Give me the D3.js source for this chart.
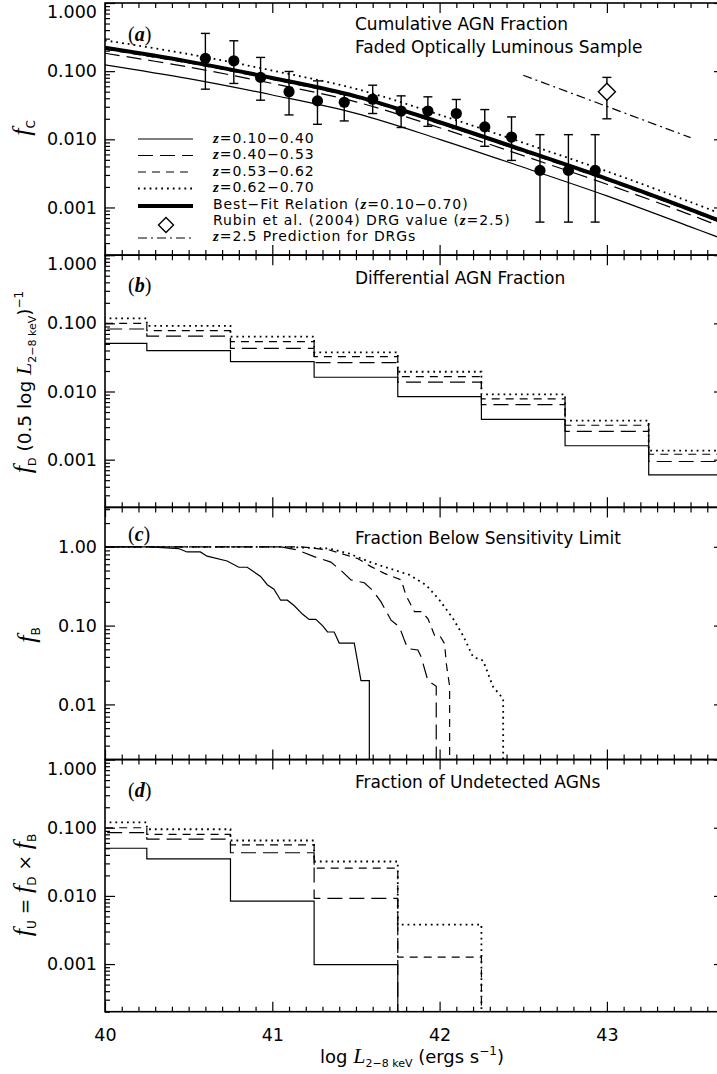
<!DOCTYPE html>
<html>
<head>
<meta charset="utf-8">
<script src="https://cdn.jsdelivr.net/npm/d3@7"></script>
<style>
  body { margin: 0; background: #fff; }
  svg { display: block; }
  text { font-family: "DejaVu Sans", sans-serif; fill: #000; white-space: pre; }
</style>
</head>
<body>
<svg id="chart" width="717" height="1074"></svg>
<script>
// ---------------- data ----------------
// (a) cumulative AGN fraction model curves, sampled in log L(2-8 keV)
const fcLogL   = [40.0, 40.5, 41.0, 41.5, 42.0, 42.5, 43.0, 43.5, 43.7];
const fcZ1     = [0.124, 0.0776, 0.0447, 0.0240, 0.0100, 0.00389, 0.00148, 0.00052, 0.00034];
const fcZ2     = [0.183, 0.115, 0.066, 0.0355, 0.0148, 0.00575, 0.00219, 0.00078, 0.00050];
const fcZ3     = [0.210, 0.132, 0.0758, 0.0408, 0.0170, 0.0066, 0.00251, 0.00089, 0.000576];
const fcZ4     = [0.283, 0.178, 0.102, 0.055, 0.0229, 0.0089, 0.00339, 0.00120, 0.000776];
const fcBest   = [0.220, 0.138, 0.0794, 0.0427, 0.0178, 0.00692, 0.00263, 0.000933, 0.000603];

// (a) measured cumulative fractions with error bars
const obsLogL  = [40.60, 40.77, 40.93, 41.10, 41.27, 41.43, 41.60, 41.77, 41.93, 42.10, 42.27, 42.43, 42.60, 42.77, 42.93];
const obsFc    = [0.154, 0.142, 0.081, 0.050, 0.0366, 0.035, 0.0388, 0.026, 0.026, 0.0239, 0.0152, 0.0108, 0.0035, 0.0035, 0.0035];
const obsLo    = [0.0544, 0.066, 0.0375, 0.0228, 0.0166, 0.0186, 0.0239, 0.0149, 0.0155, 0.0144, 0.0079, 0.0049, 0.00061, 0.00061, 0.00061];
const obsHi    = [0.358, 0.279, 0.159, 0.099, 0.072, 0.046, 0.0622, 0.0434, 0.042, 0.0384, 0.0273, 0.0213, 0.0117, 0.0117, 0.0117];

// (a) DRG value at z=2.5 and the z=2.5 prediction
const drgLogL  = [43.0];
const drgFc    = [0.050];
const drgLo    = [0.020];
const drgHi    = [0.081];
const predLogL = [42.5, 43.5];
const predFc   = [0.087, 0.0106];

// (b) differential AGN fraction per 0.5 dex bin
const binCenters = [40.0, 40.5, 41.0, 41.5, 42.0, 42.5, 43.0, 43.5];
const binWidth   = 0.5;
const fdZ1 = [0.051, 0.0397, 0.0274, 0.0162, 0.0084, 0.0039, 0.0016, 0.00060];
const fdZ2 = [0.0826, 0.065, 0.043, 0.0265, 0.0137, 0.0064, 0.0026, 0.00094];
const fdZ3 = [0.100, 0.078, 0.054, 0.0325, 0.0165, 0.0078, 0.0032, 0.0012];
const fdZ4 = [0.118, 0.092, 0.064, 0.0376, 0.0195, 0.0091, 0.00375, 0.00136];

// (c) fraction of sources below the sensitivity limit
const fbZ1LogL = [40.00, 40.27, 40.44, 40.49, 40.57, 40.61, 40.73, 40.80, 40.85, 40.93, 40.97, 41.01, 41.05, 41.09, 41.13, 41.18, 41.22, 41.26, 41.30, 41.33, 41.37, 41.40, 41.49, 41.53, 41.58];
const fbZ1     = [1.0, 1.0, 0.95, 0.86, 0.86, 0.76, 0.66, 0.55, 0.55, 0.42, 0.33, 0.29, 0.21, 0.21, 0.18, 0.14, 0.12, 0.12, 0.10, 0.083, 0.083, 0.060, 0.060, 0.020, 0.020];
const fbZ2LogL = [40.00, 41.05, 41.15, 41.25, 41.35, 41.42, 41.47, 41.55, 41.60, 41.65, 41.71, 41.76, 41.79, 41.81, 41.87, 41.89, 41.93, 41.98];
const fbZ2     = [1.0, 1.0, 0.91, 0.75, 0.64, 0.48, 0.38, 0.35, 0.28, 0.20, 0.117, 0.096, 0.065, 0.051, 0.049, 0.040, 0.020, 0.017];
const fbZ3LogL = [40.00, 41.17, 41.34, 41.51, 41.59, 41.67, 41.77, 41.80, 41.85, 41.89, 41.93, 41.97, 42.00, 42.03, 42.04, 42.06];
const fbZ3     = [1.0, 1.0, 0.91, 0.71, 0.56, 0.46, 0.38, 0.24, 0.15, 0.15, 0.123, 0.075, 0.075, 0.059, 0.033, 0.017];
const fbZ4LogL = [40.00, 41.05, 41.34, 41.46, 41.58, 41.70, 41.82, 41.92, 42.00, 42.08, 42.14, 42.20, 42.26, 42.32, 42.38];
const fbZ4     = [1.0, 1.0, 0.95, 0.82, 0.645, 0.53, 0.44, 0.326, 0.21, 0.123, 0.075, 0.040, 0.036, 0.0167, 0.0118];

// (d) fraction of undetected AGNs (bins with no undetected sources are omitted)
const fuZ1 = [0.050, 0.035, 0.0084, 0.00098];
const fuZ2 = [0.085, 0.068, 0.043, 0.0092];
const fuZ3 = [0.100, 0.080, 0.056, 0.0255, 0.00126];
const fuZ4 = [0.120, 0.095, 0.065, 0.032, 0.0038];

// axis ticks
const xTickValues = [40, 41, 42, 43];
const xTickLabels = ["40", "41", "42", "43"];
const yTickValues = [1, 0.1, 0.01, 0.001];
const yTickLabels = ["1.000", "0.100", "0.010", "0.001"];
const cTickValues = [1, 0.1, 0.01];
const cTickLabels = ["1.00", "0.10", "0.01"];

const seriesNames = ["z=0.10\u22120.40", "z=0.40\u22120.53", "z=0.53\u22120.62", "z=0.62\u22120.70"];

// ---------------- layout ----------------
const SERIF = "'Liberation Serif','DejaVu Serif',serif";
const SANS = "'DejaVu Sans',sans-serif";
const plotL = 105, plotR = 724;
const panelTop = [3, 255.2, 507.4, 759.6];
const panelH = 252.1;

const styles = [
  { w: 1.2, dash: null },          // z=0.10-0.40 solid
  { w: 1.2, dash: "15,7" },        // z=0.40-0.53 long dash
  { w: 1.2, dash: "8,6" },         // z=0.53-0.62 short dash
  { w: 1.8, dash: "1.8,4" }        // z=0.62-0.70 dotted
];

const svg = d3.select("#chart");
const x = d3.scaleLinear().domain([40, 43.7]).range([plotL, plotR]);

function logMinors(domain) {
  const out = [];
  const lo = Math.floor(Math.log10(domain[0])), hi = Math.ceil(Math.log10(domain[1]));
  for (let e = lo; e <= hi; e++) {
    for (let m = 2; m <= 9; m++) {
      const v = m * Math.pow(10, e);
      if (v >= domain[0] && v <= domain[1]) out.push(v);
    }
  }
  return out;
}

function rich(sel, parts) {
  let cur = 0;
  parts.forEach(p => {
    const ts = sel.append("tspan").text(p.t);
    const off = p.dy || 0;
    if (off !== cur) { ts.attr("dy", off - cur); cur = off; }
    ts.attr("font-family", p.ff || SANS);
    ts.attr("font-size", p.fs || 17);
    if (p.fst) ts.attr("font-style", p.fst);
    if (p.fw) ts.attr("font-weight", p.fw);
  });
  return sel;
}

function makePanel(i, yDomain, tickVals, tickLabels, showX) {
  const top = panelTop[i], bottom = top + panelH;
  const y = d3.scaleLog().domain(yDomain).range([bottom, top]);
  const g = svg.append("g");
  const clipId = "clip" + i;
  svg.append("clipPath").attr("id", clipId)
    .append("rect").attr("x", plotL).attr("y", top).attr("width", plotR - plotL).attr("height", panelH);
  const plot = g.append("g").attr("clip-path", `url(#${clipId})`);

  const axes = g.append("g");
  const minorX = d3.range(40.1, 43.7, 0.1).filter(v => Math.abs(v - Math.round(v)) > 1e-6);
  const yMin = logMinors(yDomain);

  function styleAxis(a) {
    a.select(".domain").remove();
    a.selectAll(".tick line").attr("stroke", "#000").attr("stroke-width", 1.2);
    a.selectAll("text").attr("font-family", SANS).attr("font-size", 17.5).attr("fill", "#000");
  }
  // left
  const left = axes.append("g").attr("transform", `translate(${plotL},0)`)
    .call(d3.axisLeft(y).tickValues(tickVals).tickSize(-10).tickSizeOuter(0).tickPadding(8)
      .tickFormat((d, k) => tickLabels[k]));
  styleAxis(left);
  left.selectAll(".tick").filter(d => Math.abs(y(d) - top) < 1).select("text").attr("y", 9);
  axes.append("g").attr("transform", `translate(${plotL},0)`)
    .call(d3.axisLeft(y).tickValues(yMin).tickSize(-5).tickSizeOuter(0).tickFormat("")).call(styleAxis);
  // right
  axes.append("g").attr("transform", `translate(${plotR},0)`)
    .call(d3.axisRight(y).tickValues(tickVals).tickSize(-10).tickSizeOuter(0).tickFormat("")).call(styleAxis);
  axes.append("g").attr("transform", `translate(${plotR},0)`)
    .call(d3.axisRight(y).tickValues(yMin).tickSize(-5).tickSizeOuter(0).tickFormat("")).call(styleAxis);
  // top
  axes.append("g").attr("transform", `translate(0,${top})`)
    .call(d3.axisTop(x).tickValues(xTickValues).tickSize(-10).tickSizeOuter(0).tickFormat("")).call(styleAxis);
  axes.append("g").attr("transform", `translate(0,${top})`)
    .call(d3.axisTop(x).tickValues(minorX).tickSize(-5).tickSizeOuter(0).tickFormat("")).call(styleAxis);
  // bottom
  const bot = axes.append("g").attr("transform", `translate(0,${bottom})`)
    .call(d3.axisBottom(x).tickValues(xTickValues).tickSize(-10).tickSizeOuter(0).tickPadding(17)
      .tickFormat((d, k) => showX ? xTickLabels[k] : ""));
  styleAxis(bot);
  axes.append("g").attr("transform", `translate(0,${bottom})`)
    .call(d3.axisBottom(x).tickValues(minorX).tickSize(-5).tickSizeOuter(0).tickFormat("")).call(styleAxis);

  // frame
  g.append("rect").attr("x", plotL).attr("y", top).attr("width", plotR - plotL).attr("height", panelH)
    .attr("fill", "none").attr("stroke", "#000").attr("stroke-width", 1.6);

  return { g, plot, y, top, bottom };
}

function applyStyle(sel, s) {
  sel.attr("fill", "none").attr("stroke", "#000").attr("stroke-width", s.w);
  if (s.dash) sel.attr("stroke-dasharray", s.dash);
  return sel;
}

// histogram outline: steps across bins, optionally dropping to the floor at the end
function histPoints(values, y, dropToFloor) {
  const pts = [];
  values.forEach((v, k) => {
    const lo = binCenters[k] - binWidth / 2, hi = binCenters[k] + binWidth / 2;
    pts.push([x(lo), y(v)], [x(hi), y(v)]);
  });
  if (dropToFloor) {
    const last = pts[pts.length - 1];
    pts.push([last[0], y.range()[0] + 5]);
  }
  return pts;
}
const lineRaw = d3.line();

// ---------------- panel (a) ----------------
const pa = makePanel(0, [2e-4, 1], yTickValues, yTickLabels, false);
{
  const curve = d3.line().x((d, k) => x(fcLogL[k])).y(d => pa.y(d)).curve(d3.curveCatmullRom);
  [fcZ1, fcZ2, fcZ3, fcZ4].forEach((arr, k) => {
    applyStyle(pa.plot.append("path").attr("d", curve(arr)), styles[k]);
  });
  applyStyle(pa.plot.append("path").attr("d", curve(fcBest)), { w: 4, dash: null });

  // z=2.5 prediction
  const pred = d3.line().x((d, k) => x(predLogL[k])).y(d => pa.y(d));
  applyStyle(pa.plot.append("path").attr("d", pred(predFc)), { w: 1.2, dash: "9,4,2,4" });

  // error bars + points
  const eb = pa.plot.append("g").attr("stroke", "#000").attr("stroke-width", 1.4);
  obsLogL.forEach((L, k) => {
    const cx = x(L);
    eb.append("line").attr("x1", cx).attr("x2", cx).attr("y1", pa.y(obsLo[k])).attr("y2", pa.y(obsHi[k]));
    eb.append("line").attr("x1", cx - 4.5).attr("x2", cx + 4.5).attr("y1", pa.y(obsLo[k])).attr("y2", pa.y(obsLo[k]));
    eb.append("line").attr("x1", cx - 4.5).attr("x2", cx + 4.5).attr("y1", pa.y(obsHi[k])).attr("y2", pa.y(obsHi[k]));
    pa.plot.append("circle").attr("cx", cx).attr("cy", pa.y(obsFc[k])).attr("r", 5.6).attr("fill", "#000");
  });

  // DRG diamond with error bar
  drgLogL.forEach((L, k) => {
    const cx = x(L), cy = pa.y(drgFc[k]);
    eb.append("line").attr("x1", cx).attr("x2", cx).attr("y1", pa.y(drgLo[k])).attr("y2", pa.y(drgHi[k]));
    eb.append("line").attr("x1", cx - 4.5).attr("x2", cx + 4.5).attr("y1", pa.y(drgLo[k])).attr("y2", pa.y(drgLo[k]));
    eb.append("line").attr("x1", cx - 4.5).attr("x2", cx + 4.5).attr("y1", pa.y(drgHi[k])).attr("y2", pa.y(drgHi[k]));
    pa.plot.append("path").attr("d", `M${cx},${cy - 8.5}L${cx + 8.5},${cy}L${cx},${cy + 8.5}L${cx - 8.5},${cy}Z`)
      .attr("fill", "#fff").attr("stroke", "#000").attr("stroke-width", 1.4);
  });

  // titles
  pa.g.append("text").attr("x", 355).attr("y", 29.5).attr("font-size", 17).text("Cumulative AGN Fraction");
  pa.g.append("text").attr("x", 355).attr("y", 53).attr("font-size", 17).text("Faded Optically Luminous Sample");
  rich(pa.g.append("text").attr("x", 128).attr("y", 41), [
    { t: "(", ff: SERIF, fs: 20 }, { t: "a", ff: SERIF, fs: 20, fst: "italic", fw: "bold" }, { t: ")", ff: SERIF, fs: 20 }
  ]);

  // legend
  const lg = pa.g.append("g");
  const rowY = [138, 154.5, 171, 187.5, 204, 220, 236];
  const lx0 = 138, lx1 = 193, tx = 213;
  const LS = 14, LZ = 15, LSP = 0.9;
  const legendText = (row, parts) =>
    rich(lg.append("text").attr("x", tx).attr("y", rowY[row] + 4.5).attr("letter-spacing", LSP), parts);
  seriesNames.forEach((name, k) => {
    applyStyle(lg.append("line").attr("x1", lx0).attr("x2", lx1).attr("y1", rowY[k] + 1).attr("y2", rowY[k] + 1), styles[k]);
    legendText(k, [
      { t: "z", ff: SERIF, fs: LZ, fst: "italic", fw: "bold" }, { t: name.slice(1), fs: LS }
    ]);
  });
  applyStyle(lg.append("line").attr("x1", lx0).attr("x2", lx1).attr("y1", rowY[4] + 2).attr("y2", rowY[4] + 2), { w: 4, dash: null });
  legendText(4, [
    { t: "Best\u2212Fit Relation (", fs: LS }, { t: "z", ff: SERIF, fs: LZ, fst: "italic", fw: "bold" }, { t: "=0.10\u22120.70)", fs: LS }
  ]);
  {
    const cx = 166, cy = rowY[5] + 5;
    lg.append("path").attr("d", `M${cx},${cy - 7.5}L${cx + 7.5},${cy}L${cx},${cy + 7.5}L${cx - 7.5},${cy}Z`)
      .attr("fill", "#fff").attr("stroke", "#000").attr("stroke-width", 1.4);
  }
  legendText(5, [
    { t: "Rubin et al. (2004) DRG value (", fs: LS }, { t: "z", ff: SERIF, fs: LZ, fst: "italic", fw: "bold" }, { t: "=2.5)", fs: LS }
  ]);
  applyStyle(lg.append("line").attr("x1", lx0).attr("x2", lx1).attr("y1", rowY[6] + 2).attr("y2", rowY[6] + 2), { w: 1.2, dash: "9,4,2,4" });
  legendText(6, [
    { t: "z", ff: SERIF, fs: LZ, fst: "italic", fw: "bold" }, { t: "=2.5 Prediction for DRGs", fs: LS }
  ]);

  rich(svg.append("text").attr("transform", "translate(30,128) rotate(-90)").attr("text-anchor", "middle"), [
    { t: "f", ff: SERIF, fs: 26, fst: "italic" }, { t: "C", fs: 12, dy: 5 }
  ]);
}

// ---------------- panel (b) ----------------
const pb = makePanel(1, [2e-4, 1], yTickValues, yTickLabels, false);
{
  [fdZ1, fdZ2, fdZ3, fdZ4].forEach((arr, k) => {
    applyStyle(pb.plot.append("path").attr("d", lineRaw(histPoints(arr, pb.y, false))), styles[k]);
  });
  pb.g.append("text").attr("x", 355).attr("y", 283.5).attr("font-size", 17).text("Differential AGN Fraction");
  rich(pb.g.append("text").attr("x", 128).attr("y", 292), [
    { t: "(", ff: SERIF, fs: 20 }, { t: "b", ff: SERIF, fs: 20, fst: "italic", fw: "bold" }, { t: ")", ff: SERIF, fs: 20 }
  ]);
  rich(svg.append("text").attr("transform", "translate(31,382) rotate(-90)").attr("text-anchor", "middle"), [
    { t: "f", ff: SERIF, fs: 26, fst: "italic" }, { t: "D", fs: 11, dy: 5 },
    { t: " (0.5 log ", fs: 18.5 }, { t: "L", ff: SERIF, fs: 22, fst: "italic" },
    { t: "2\u22128 keV", fs: 11, dy: 5 }, { t: ")", fs: 18.5 }, { t: "\u22121", fs: 12, dy: -8 }
  ]);
}

// ---------------- panel (c) ----------------
const pc = makePanel(2, [0.002, 3.16], cTickValues, cTickLabels, false);
{
  const sets = [[fbZ1LogL, fbZ1], [fbZ2LogL, fbZ2], [fbZ3LogL, fbZ3], [fbZ4LogL, fbZ4]];
  sets.forEach(([xs, ys], k) => {
    const pts = xs.map((L, j) => [x(L), pc.y(ys[j])]);
    pts.push([x(xs[xs.length - 1]), pc.y.range()[0] + 5]);
    applyStyle(pc.plot.append("path").attr("d", lineRaw(pts)), styles[k]);
  });
  pc.g.append("text").attr("x", 355).attr("y", 543.5).attr("font-size", 17).text("Fraction Below Sensitivity Limit");
  rich(pc.g.append("text").attr("x", 128).attr("y", 541), [
    { t: "(", ff: SERIF, fs: 20 }, { t: "c", ff: SERIF, fs: 20, fst: "italic", fw: "bold" }, { t: ")", ff: SERIF, fs: 20 }
  ]);
  rich(svg.append("text").attr("transform", "translate(35,635) rotate(-90)").attr("text-anchor", "middle"), [
    { t: "f", ff: SERIF, fs: 26, fst: "italic" }, { t: "B", fs: 12, dy: 5 }
  ]);
}

// ---------------- panel (d) ----------------
const pd = makePanel(3, [2e-4, 1], yTickValues, yTickLabels, true);
{
  [fuZ1, fuZ2, fuZ3, fuZ4].forEach((arr, k) => {
    applyStyle(pd.plot.append("path").attr("d", lineRaw(histPoints(arr, pd.y, true))), styles[k]);
  });
  pd.g.append("text").attr("x", 355).attr("y", 788).attr("font-size", 17).text("Fraction of Undetected AGNs");
  rich(pd.g.append("text").attr("x", 128).attr("y", 797), [
    { t: "(", ff: SERIF, fs: 20 }, { t: "d", ff: SERIF, fs: 20, fst: "italic", fw: "bold" }, { t: ")", ff: SERIF, fs: 20 }
  ]);
  rich(svg.append("text").attr("transform", "translate(31,885) rotate(-90)").attr("text-anchor", "middle"), [
    { t: "f", ff: SERIF, fs: 26, fst: "italic" }, { t: "U", fs: 12, dy: 5 }, { t: " = ", fs: 18.5 },
    { t: "f", ff: SERIF, fs: 26, fst: "italic" }, { t: "D", fs: 12, dy: 5 }, { t: " \u00d7 ", fs: 18.5 },
    { t: "f", ff: SERIF, fs: 26, fst: "italic" }, { t: "B", fs: 12, dy: 5 }
  ]);
  rich(svg.append("text").attr("x", 412).attr("y", 1063).attr("text-anchor", "middle"), [
    { t: "log ", fs: 18 }, { t: "L", ff: SERIF, fs: 22, fst: "italic" }, { t: "2\u22128 keV", fs: 11, dy: 4 },
    { t: " (ergs s", fs: 18 }, { t: "\u22121", fs: 12, dy: -8 }, { t: ")", fs: 18 }
  ]);
}
</script>
</body>
</html>
